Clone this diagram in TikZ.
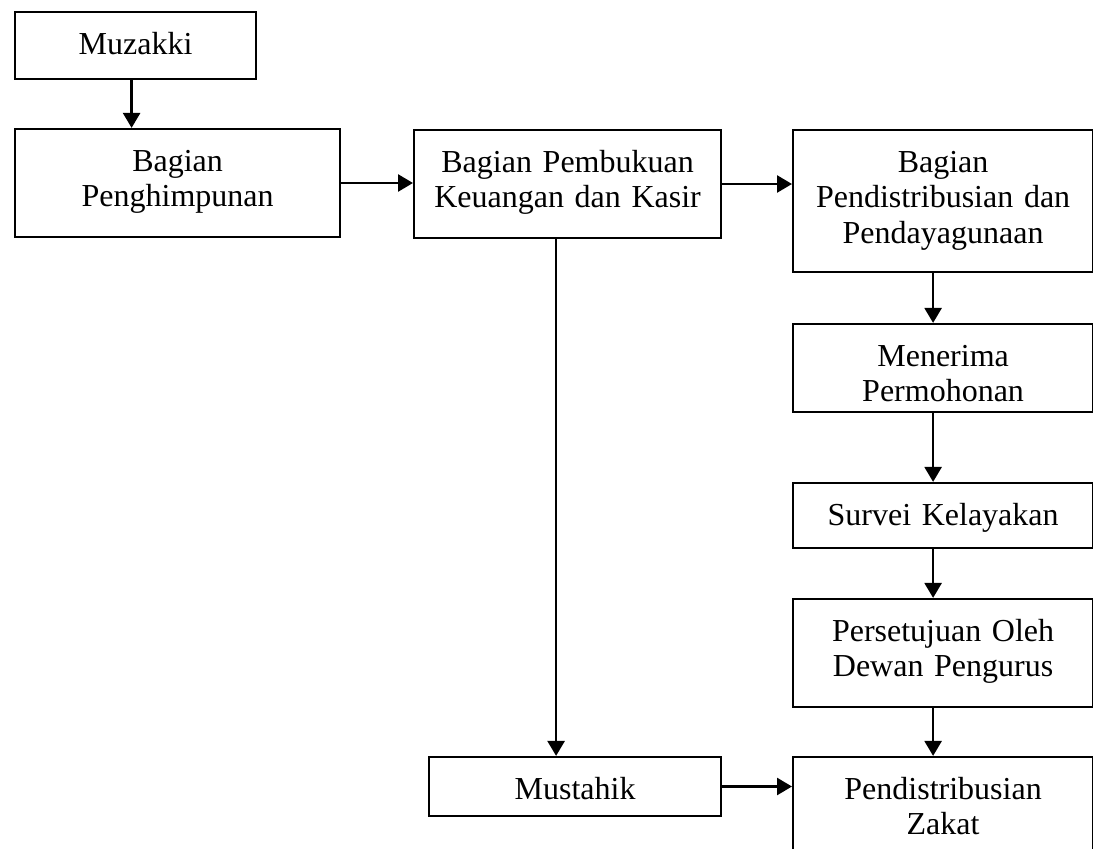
\documentclass[tikz,border=0pt]{standalone}
\usepackage{fontspec}
\setmainfont{Liberation Serif}
\usetikzlibrary{arrows.meta}

\begin{document}
\begin{tikzpicture}[x=1pt, y=-1pt,
            box/.style={draw, black, line width=2.2pt, align=center, inner sep=0pt,
                anchor=base west, text height=42pt, font=\fontsize{32}{35.5}\selectfont},
            flow/.style={black, line width=2.6pt, -{Triangle[length=15pt, width=17pt]}}]
            \useasboundingbox (0,0) rectangle (1093,849);
            \clip (0,0) rectangle (1093,849);

            \node[box, text width=241pt, text depth=25pt] (muzakki) at (14,54) {Muzakki};
            \node[box, text width=325pt, text depth=66pt] (penghimp) at (14,171) {Bagian\\Penghimpunan};
            \node[box, text width=307pt, text depth=66pt] (pembukuan) at (413,172) {Bagian Pembukuan\\Keuangan dan Kasir};
            \node[box, text width=300pt, text depth=100pt] (pendist) at (792,172) {Bagian\\Pendistribusian dan\\Pendayagunaan};
            \node[box, text width=300pt, text depth=46pt] (menerima) at (792,366) {Menerima\\Permohonan};
            \node[box, text width=300pt, text depth=23pt] (survei) at (792,525) {Survei Kelayakan};
            \node[box, text width=300pt, text depth=66pt] (setuju) at (792,641) {Persetujuan Oleh\\Dewan Pengurus};
            \node[box, text width=292pt, text depth=17pt] (mustahik) at (428,799) {Mustahik};
            \node[box, text width=300pt, text depth=67pt] (zakat) at (792,799) {Pendistribusian\\Zakat};

            \draw[flow] ([xshift=-4pt]muzakki.south) -- ([xshift=-4pt]muzakki.south |- penghimp.north);
            \draw[flow] (penghimp.east) -- (penghimp.east -| pembukuan.west);
            \draw[flow] (pembukuan.east) -- (pembukuan.east -| pendist.west);
            \draw[flow] ([xshift=-10pt]pendist.south) -- ([xshift=-10pt]menerima.north);
            \draw[flow] ([xshift=-10pt]menerima.south) -- ([xshift=-10pt]survei.north);
            \draw[flow] ([xshift=-10pt]survei.south) -- ([xshift=-10pt]setuju.north);
            \draw[flow] ([xshift=-10pt]setuju.south) -- ([xshift=-10pt]zakat.north);
            \draw[flow] ([xshift=-11.5pt]pembukuan.south) -- ([xshift=-11.5pt]pembukuan.south |- mustahik.north);
            \draw[flow] (mustahik.east) -- (mustahik.east -| zakat.west);
        \end{tikzpicture}
\end{document}
